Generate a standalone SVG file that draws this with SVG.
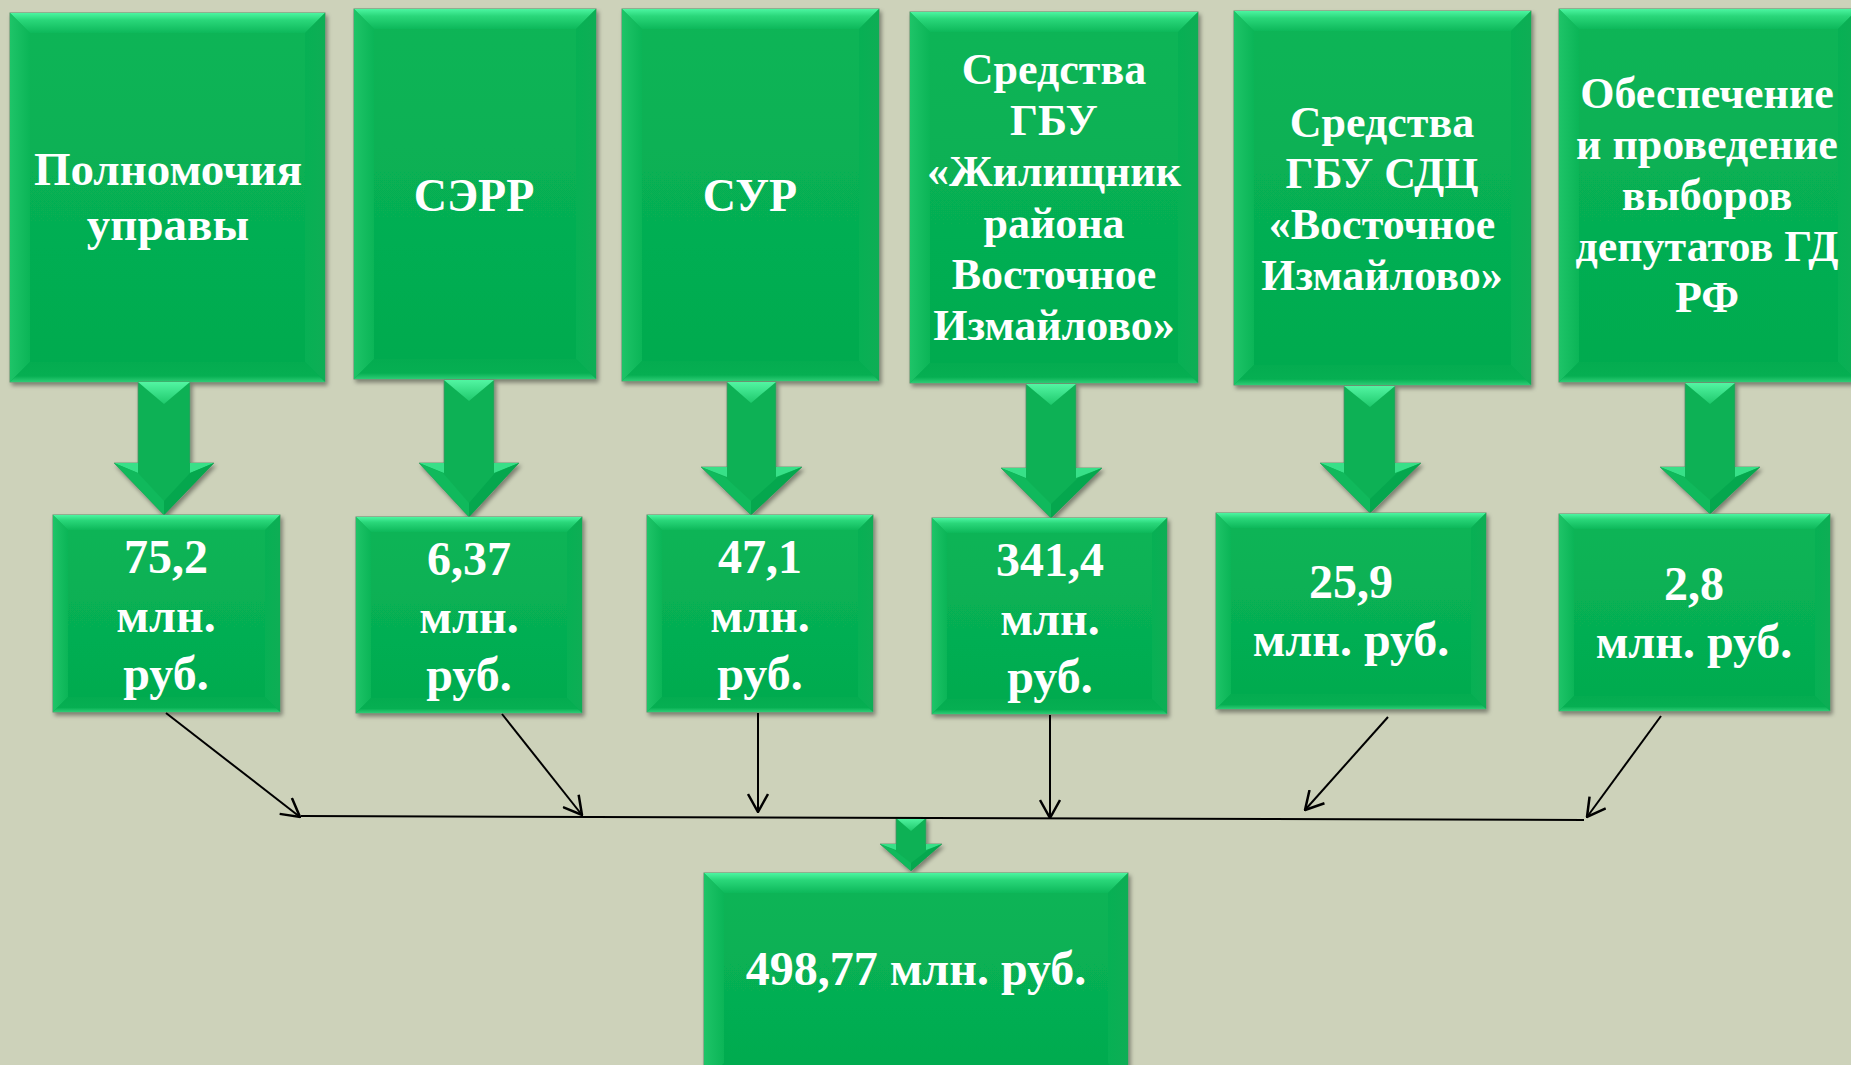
<svg xmlns="http://www.w3.org/2000/svg" width="1851" height="1065" viewBox="0 0 1851 1065">
<defs>
<linearGradient id="gFace" x1="0" y1="0" x2="0" y2="1"><stop offset="0" stop-color="#0AB557"/><stop offset="1" stop-color="#03AA4F"/></linearGradient>
<linearGradient id="gTop" x1="0" y1="0" x2="0" y2="1"><stop offset="0" stop-color="#4CF5A1"/><stop offset="0.35" stop-color="#2AD77A"/><stop offset="1" stop-color="#0DB85A"/></linearGradient>
<linearGradient id="gBot" x1="0" y1="0" x2="0" y2="1"><stop offset="0" stop-color="#04AC50"/><stop offset="0.7" stop-color="#06AF52"/><stop offset="1" stop-color="#2DCC75"/></linearGradient>
<linearGradient id="gLeft" x1="0" y1="0" x2="1" y2="0"><stop offset="0" stop-color="#1EC468"/><stop offset="1" stop-color="#0BB557"/></linearGradient>
<linearGradient id="gRight" x1="0" y1="0" x2="1" y2="0"><stop offset="0" stop-color="#07B054"/><stop offset="1" stop-color="#0EAE55"/></linearGradient>
<linearGradient id="gATop" x1="0" y1="0" x2="0" y2="1"><stop offset="0" stop-color="#52F5A2"/><stop offset="1" stop-color="#1FC96C"/></linearGradient>
<filter id="sh" x="-10%" y="-10%" width="120%" height="120%"><feDropShadow dx="2" dy="3" stdDeviation="2" flood-color="#000" flood-opacity="0.4"/></filter>
<marker id="ah" viewBox="0 0 20 22" refX="19" refY="11" markerWidth="20" markerHeight="22" markerUnits="userSpaceOnUse" orient="auto"><path d="M1,1 L19,11 L1,21" fill="none" stroke="#000" stroke-width="2.5"/></marker>
</defs>
<style>
.face{fill:url(#gFace);stroke:#5A9068;stroke-width:1;filter:url(#sh)}
.bt{fill:url(#gTop)}
.bl{fill:url(#gLeft)}
.br{fill:url(#gRight)}
.bb{fill:url(#gBot)}
.ab{fill:#08B154;stroke:#5A9068;stroke-width:0.8;filter:url(#sh)}
.at{fill:url(#gATop)}
.aw{fill:#38E088}
.adl{fill:#10B95C}
.adr{fill:#05A74E}
.t{font-family:"Liberation Serif","Times New Roman",serif;font-weight:bold;fill:#fff;text-anchor:middle}
.f48{font-size:48px}
.f47{font-size:47px}
.f46{font-size:46px}
.f44{font-size:44px}
.cn{stroke:#000;stroke-width:2;fill:none}
</style>
<rect x="0" y="0" width="1851" height="1065" fill="#CDD2BA"/>

<g id="top1">
<rect class="face" x="10" y="13" width="315" height="369"/>
<polygon class="bt" points="10,13 325,13 305,33 30,33"/>
<polygon class="bl" points="10,13 30,33 30,362 10,382"/>
<polygon class="br" points="325,13 325,382 305,362 305,33"/>
<polygon class="bb" points="10,382 30,362 305,362 325,382"/>
<text class="t f47" x="168" y="185">Полномочия</text>
<text class="t f47" x="168" y="240">управы</text>
</g>
<g id="top2">
<rect class="face" x="354" y="9" width="242" height="370"/>
<polygon class="bt" points="354,9 596,9 576,29 374,29"/>
<polygon class="bl" points="354,9 374,29 374,359 354,379"/>
<polygon class="br" points="596,9 596,379 576,359 576,29"/>
<polygon class="bb" points="354,379 374,359 576,359 596,379"/>
<text class="t f46" x="474" y="211">СЭРР</text>
</g>
<g id="top3">
<rect class="face" x="622" y="9" width="257" height="372"/>
<polygon class="bt" points="622,9 879,9 859,29 642,29"/>
<polygon class="bl" points="622,9 642,29 642,361 622,381"/>
<polygon class="br" points="879,9 879,381 859,361 859,29"/>
<polygon class="bb" points="622,381 642,361 859,361 879,381"/>
<text class="t f46" x="750" y="211">СУР</text>
</g>
<g id="top4">
<rect class="face" x="910" y="12" width="288" height="371"/>
<polygon class="bt" points="910,12 1198,12 1178,32 930,32"/>
<polygon class="bl" points="910,12 930,32 930,363 910,383"/>
<polygon class="br" points="1198,12 1198,383 1178,363 1178,32"/>
<polygon class="bb" points="910,383 930,363 1178,363 1198,383"/>
<text class="t f44" x="1054" y="84">Средства</text>
<text class="t f44" x="1054" y="135">ГБУ</text>
<text class="t f44" x="1054" y="186">«Жилищник</text>
<text class="t f44" x="1054" y="238">района</text>
<text class="t f44" x="1054" y="289">Восточное</text>
<text class="t f44" x="1054" y="340">Измайлово»</text>
</g>
<g id="top5">
<rect class="face" x="1234" y="11" width="297" height="374"/>
<polygon class="bt" points="1234,11 1531,11 1511,31 1254,31"/>
<polygon class="bl" points="1234,11 1254,31 1254,365 1234,385"/>
<polygon class="br" points="1531,11 1531,385 1511,365 1511,31"/>
<polygon class="bb" points="1234,385 1254,365 1511,365 1531,385"/>
<text class="t f44" x="1382" y="137">Средства</text>
<text class="t f44" x="1382" y="188">ГБУ СДЦ</text>
<text class="t f44" x="1382" y="239">«Восточное</text>
<text class="t f44" x="1382" y="290">Измайлово»</text>
</g>
<g id="top6">
<rect class="face" x="1559" y="9" width="299" height="373"/>
<polygon class="bt" points="1559,9 1858,9 1838,29 1579,29"/>
<polygon class="bl" points="1559,9 1579,29 1579,362 1559,382"/>
<polygon class="br" points="1858,9 1858,382 1838,362 1838,29"/>
<polygon class="bb" points="1559,382 1579,362 1838,362 1858,382"/>
<text class="t f44" x="1707" y="108">Обеспечение</text>
<text class="t f44" x="1707" y="159">и проведение</text>
<text class="t f44" x="1707" y="210">выборов</text>
<text class="t f44" x="1707" y="261">депутатов ГД</text>
<text class="t f44" x="1707" y="312">РФ</text>
</g>

<g id="arrow1">
<polygon class="ab" points="138,382 190,382 190,463 214,463 164,515 114,463 138,463"/>
<polygon class="at" points="138,382 190,382 164,404"/>
<polygon class="aw" points="114,463 138,463 138,473"/>
<polygon class="aw" points="214,463 190,463 190,473"/>
<polygon class="adl" points="114,463 138,473 164,501 164,515"/>
<polygon class="adr" points="214,463 190,473 164,501 164,515"/>
</g>
<g id="arrow2">
<polygon class="ab" points="444,380 494,380 494,463 519,463 469,517 419,463 444,463"/>
<polygon class="at" points="444,380 494,380 469,401"/>
<polygon class="aw" points="419,463 444,463 444,473"/>
<polygon class="aw" points="519,463 494,463 494,473"/>
<polygon class="adl" points="419,463 443,473 469,503 469,517"/>
<polygon class="adr" points="519,463 495,473 469,503 469,517"/>
</g>
<g id="arrow3">
<polygon class="ab" points="727,382 776,382 776,467 802,467 751,515 701,467 727,467"/>
<polygon class="at" points="727,382 776,382 751,403"/>
<polygon class="aw" points="701,467 727,467 727,477"/>
<polygon class="aw" points="802,467 776,467 776,477"/>
<polygon class="adl" points="701,467 725,477 751,501 751,515"/>
<polygon class="adr" points="802,467 778,477 751,501 751,515"/>
</g>
<g id="arrow4">
<polygon class="ab" points="1026,384 1076,384 1076,468 1102,468 1051,518 1001,468 1026,468"/>
<polygon class="at" points="1026,384 1076,384 1051,405"/>
<polygon class="aw" points="1001,468 1026,468 1026,478"/>
<polygon class="aw" points="1102,468 1076,468 1076,478"/>
<polygon class="adl" points="1001,468 1025,478 1051,504 1051,518"/>
<polygon class="adr" points="1102,468 1078,478 1051,504 1051,518"/>
</g>
<g id="arrow5">
<polygon class="ab" points="1344,386 1395,386 1395,463 1421,463 1370,513 1320,463 1344,463"/>
<polygon class="at" points="1344,386 1395,386 1370,407"/>
<polygon class="aw" points="1320,463 1344,463 1344,473"/>
<polygon class="aw" points="1421,463 1395,463 1395,473"/>
<polygon class="adl" points="1320,463 1344,473 1370,499 1370,513"/>
<polygon class="adr" points="1421,463 1397,473 1370,499 1370,513"/>
</g>
<g id="arrow6">
<polygon class="ab" points="1685,383 1735,383 1735,467 1760,467 1710,514 1660,467 1685,467"/>
<polygon class="at" points="1685,383 1735,383 1710,404"/>
<polygon class="aw" points="1660,467 1685,467 1685,477"/>
<polygon class="aw" points="1760,467 1735,467 1735,477"/>
<polygon class="adl" points="1660,467 1684,477 1710,500 1710,514"/>
<polygon class="adr" points="1760,467 1736,477 1710,500 1710,514"/>
</g>

<g id="mid1">
<rect class="face" x="53" y="515" width="227" height="197"/>
<polygon class="bt" points="53,515 280,515 265,530 68,530"/>
<polygon class="bl" points="53,515 68,530 68,697 53,712"/>
<polygon class="br" points="280,515 280,712 265,697 265,530"/>
<polygon class="bb" points="53,712 68,697 265,697 280,712"/>
<text class="t f48" x="166" y="573">75,2</text>
<text class="t f48" x="166" y="632">млн.</text>
<text class="t f48" x="166" y="690">руб.</text>
</g>
<g id="mid2">
<rect class="face" x="356" y="517" width="226" height="196"/>
<polygon class="bt" points="356,517 582,517 567,532 371,532"/>
<polygon class="bl" points="356,517 371,532 371,698 356,713"/>
<polygon class="br" points="582,517 582,713 567,698 567,532"/>
<polygon class="bb" points="356,713 371,698 567,698 582,713"/>
<text class="t f48" x="469" y="575">6,37</text>
<text class="t f48" x="469" y="633">млн.</text>
<text class="t f48" x="469" y="691">руб.</text>
</g>
<g id="mid3">
<rect class="face" x="647" y="515" width="226" height="197"/>
<polygon class="bt" points="647,515 873,515 858,530 662,530"/>
<polygon class="bl" points="647,515 662,530 662,697 647,712"/>
<polygon class="br" points="873,515 873,712 858,697 858,530"/>
<polygon class="bb" points="647,712 662,697 858,697 873,712"/>
<text class="t f48" x="760" y="573">47,1</text>
<text class="t f48" x="760" y="632">млн.</text>
<text class="t f48" x="760" y="690">руб.</text>
</g>
<g id="mid4">
<rect class="face" x="932" y="518" width="235" height="196"/>
<polygon class="bt" points="932,518 1167,518 1152,533 947,533"/>
<polygon class="bl" points="932,518 947,533 947,699 932,714"/>
<polygon class="br" points="1167,518 1167,714 1152,699 1152,533"/>
<polygon class="bb" points="932,714 947,699 1152,699 1167,714"/>
<text class="t f48" x="1050" y="576">341,4</text>
<text class="t f48" x="1050" y="635">млн.</text>
<text class="t f48" x="1050" y="693">руб.</text>
</g>
<g id="mid5">
<rect class="face" x="1216" y="513" width="270" height="196"/>
<polygon class="bt" points="1216,513 1486,513 1471,528 1231,528"/>
<polygon class="bl" points="1216,513 1231,528 1231,694 1216,709"/>
<polygon class="br" points="1486,513 1486,709 1471,694 1471,528"/>
<polygon class="bb" points="1216,709 1231,694 1471,694 1486,709"/>
<text class="t f48" x="1351" y="598">25,9</text>
<text class="t f48" x="1351" y="656">млн. руб.</text>
</g>
<g id="mid6">
<rect class="face" x="1559" y="514" width="271" height="197"/>
<polygon class="bt" points="1559,514 1830,514 1815,529 1574,529"/>
<polygon class="bl" points="1559,514 1574,529 1574,696 1559,711"/>
<polygon class="br" points="1830,514 1830,711 1815,696 1815,529"/>
<polygon class="bb" points="1559,711 1574,696 1815,696 1830,711"/>
<text class="t f48" x="1694" y="600">2,8</text>
<text class="t f48" x="1694" y="658">млн. руб.</text>
</g>

<g id="arrowTotal">
<polygon class="ab" points="896,818 926,818 926,844 942,844 911,871 880,844 896,844"/>
<polygon class="at" points="896,818 926,818 911,831"/>
<polygon class="aw" points="880,844 896,844 896,850"/>
<polygon class="aw" points="942,844 926,844 926,850"/>
<polygon class="adl" points="880,844 894,850 911,863 911,871"/>
<polygon class="adr" points="942,844 928,850 911,863 911,871"/>
</g>

<g id="total">
<rect class="face" x="704" y="873" width="424" height="210"/>
<polygon class="bt" points="704,873 1128,873 1108,893 724,893"/>
<polygon class="bl" points="704,873 724,893 724,1063 704,1083"/>
<polygon class="br" points="1128,873 1128,1083 1108,1063 1108,893"/>
<text class="t f48" x="916" y="985">498,77 млн. руб.</text>
</g>

<g id="connectors">
<line class="cn" x1="301" y1="816" x2="1584" y2="820"/>
<line class="cn" x1="166" y1="713" x2="300" y2="817" marker-end="url(#ah)"/>
<line class="cn" x1="502" y1="714" x2="582" y2="815" marker-end="url(#ah)"/>
<line class="cn" x1="758" y1="713" x2="758" y2="812" marker-end="url(#ah)"/>
<line class="cn" x1="1050" y1="715" x2="1050" y2="818" marker-end="url(#ah)"/>
<line class="cn" x1="1388" y1="717" x2="1305" y2="810" marker-end="url(#ah)"/>
<line class="cn" x1="1661" y1="716" x2="1587" y2="817" marker-end="url(#ah)"/>
</g>
</svg>
